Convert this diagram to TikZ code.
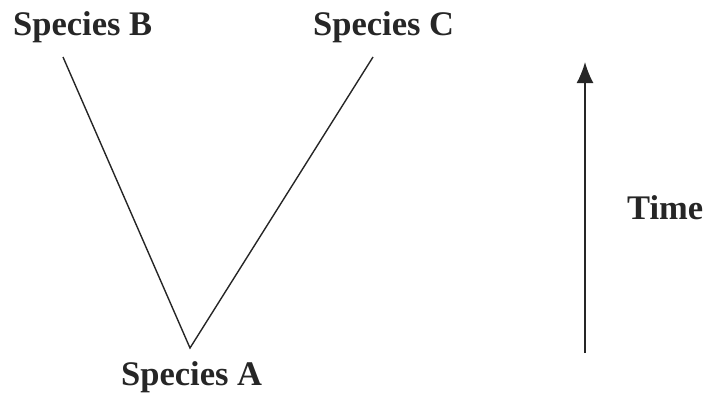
\documentclass[tikz,border=0pt]{standalone}
\usepackage{fontspec}
\setmainfont{Liberation Serif}
\usetikzlibrary{arrows.meta}
\begin{document}
\begin{tikzpicture}[x=1pt,y=1pt,
  lbl/.style={font=\fontsize{34.5}{38}\selectfont\bfseries, text=black!85, inner sep=0pt, anchor=base west},
  branch/.style={line width=1.4pt, draw=black!85},
  timearrow/.style={line width=1.7pt, draw=black!85, -{Latex[length=21pt,width=17pt]}}]
\useasboundingbox (0,0) rectangle (708,392);
\node[lbl] (sb) at (13,356) {Species B};
\node[lbl] (sc) at (313,356) {Species C};
\node[lbl] (sa) at (121,7) {Species A};
\node[lbl] (tm) at (627,173) {Time};
\coordinate (b) at (63,335);
\coordinate (c) at (373,335);
\coordinate (v) at (190,44);
\coordinate (t0) at (585,39);
\coordinate (t1) at (585,330);
\draw[branch] (b) -- (v) -- (c);
\draw[timearrow] (t0) -- (t1);
\end{tikzpicture}
\end{document}
